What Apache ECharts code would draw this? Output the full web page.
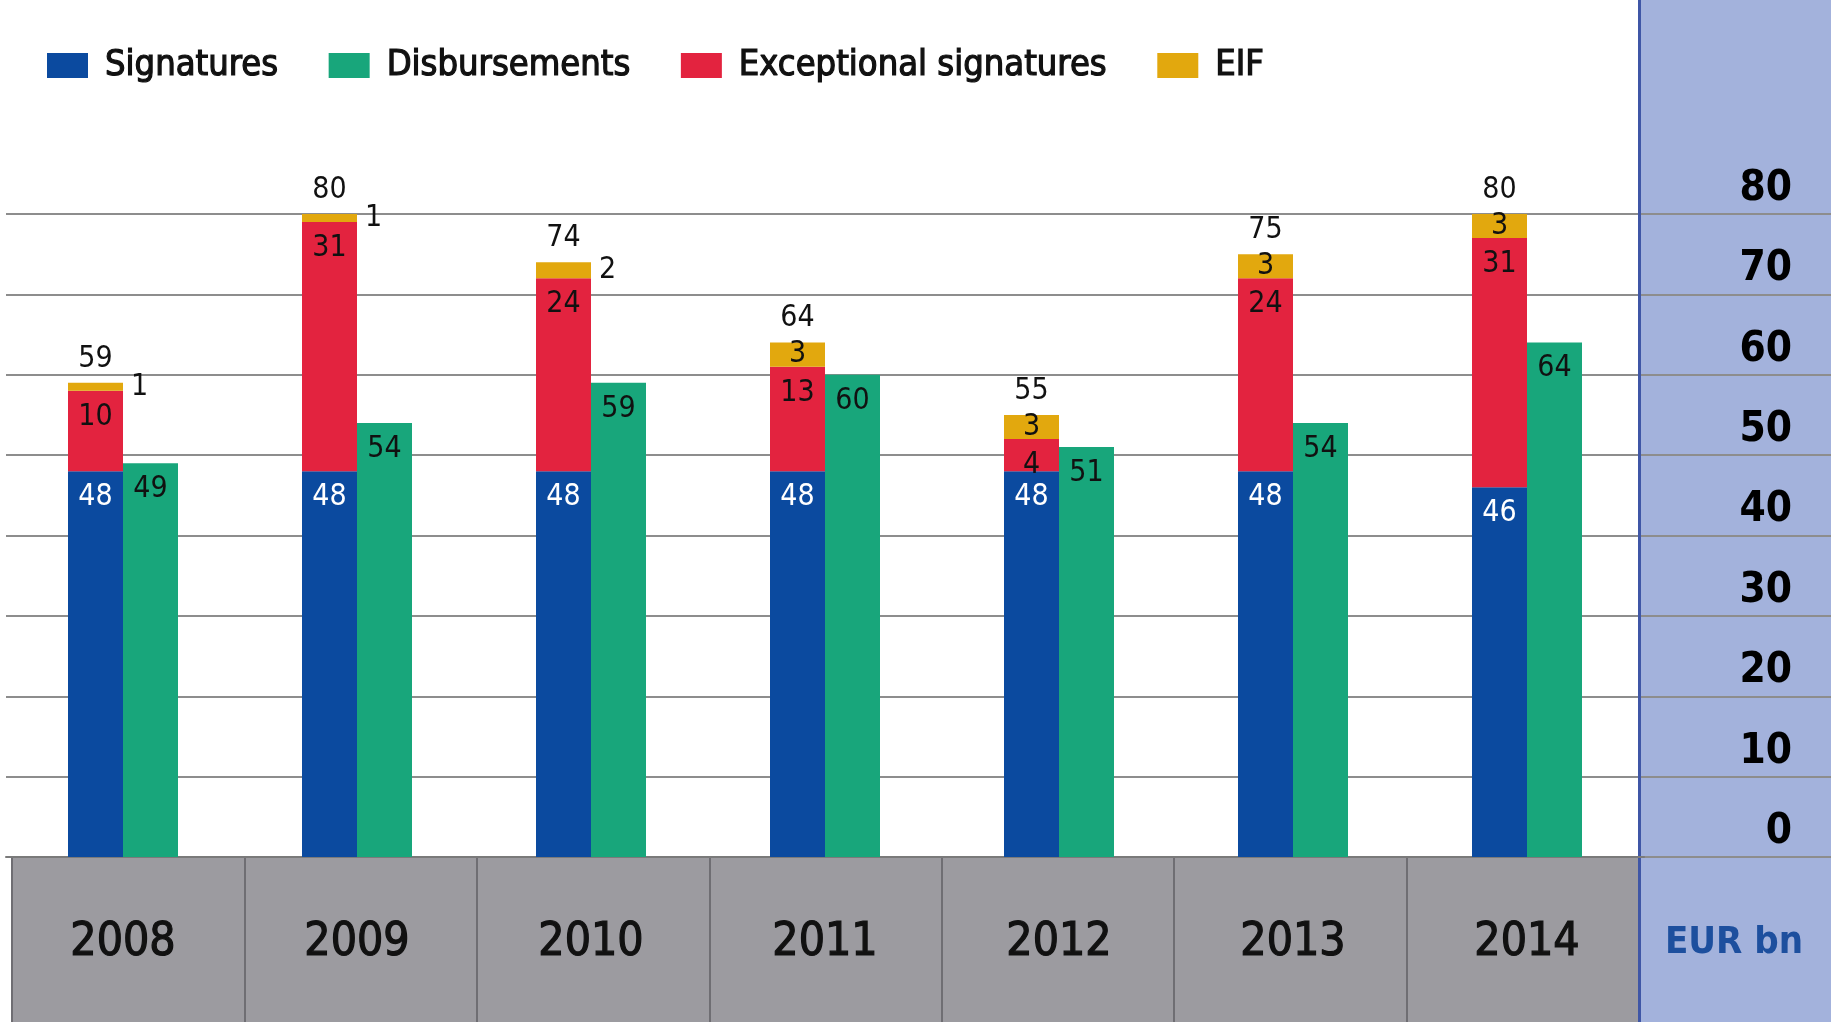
<!DOCTYPE html>
<html>
<head>
<meta charset="utf-8">
<script src="https://cdn.jsdelivr.net/npm/echarts@6/dist/echarts.min.js"></script>
<style>
html, body { margin: 0; padding: 0; background: #fff; }
#chart { width: 1831px; height: 1022px; }
</style>
</head>
<body>
<div id="chart"></div>
<script>
// values (EUR bn)
var years = ['2008', '2009', '2010', '2011', '2012', '2013', '2014'];
var signatures = [48, 48, 48, 48, 48, 48, 46];
var disbursements = [49, 54, 59, 60, 51, 54, 64];
var exceptional = [10, 31, 24, 13, 4, 24, 31];
var eif = [1, 1, 2, 3, 3, 3, 3];
var totals = [59, 80, 74, 64, 55, 75, 80];
var unitLabel = 'EUR bn';

var FONT = '"DejaVu Sans Condensed", "Liberation Sans Narrow", "Noto Sans", sans-serif';
var gridGrey = '#8d8d8d';

var myChart = echarts.init(document.getElementById('chart'));

// small EIF slices get their label beside the bar
var eifData = eif.map(function (v) {
    return {
        value: v,
        label: { position: v < 3 ? 'right' : 'inside', distance: 8 }
    };
});

var barLabel = function (pos, color) {
    return {
        show: true, position: pos, distance: 11,
        color: color, fontSize: 30, fontFamily: FONT
    };
};

var option = {
    animation: false,
    textStyle: { fontFamily: FONT },
    legend: {
        data: ['Signatures', 'Disbursements', 'Exceptional signatures', 'EIF'],
        left: 47, top: 47, padding: 0,
        icon: 'rect', itemWidth: 41, itemHeight: 25, itemGap: 50,
        textStyle: {
            fontSize: 36, color: '#111', fontFamily: FONT, padding: [0, 0, 0, 12],
            textBorderColor: '#111', textBorderWidth: 1.2
        }
    },
    grid: [
        { left: 6, right: 187, top: 214, bottom: 165 },                      // bars
        { left: 1639, right: 0, top: 0, bottom: 0, show: true, backgroundColor: '#a3b2dc', borderWidth: 0 }, // side panel
        { left: 1639, right: 0, top: 214, bottom: 165 },                     // panel values
        { left: 12, right: 192, top: 857, bottom: 0, show: true, backgroundColor: '#9c9ba0', borderWidth: 0 } // year band
    ],
    xAxis: [
        {
            gridIndex: 0, type: 'category', data: years,
            axisLine: { show: true, lineStyle: { color: '#7a7a7a', width: 2 } },
            axisTick: { show: false },
            axisLabel: {
                margin: 63, fontSize: 46, color: '#111', fontFamily: FONT,
                textBorderColor: '#111', textBorderWidth: 1.2
            }
        },
        { gridIndex: 1, type: 'value', show: false },
        { gridIndex: 2, type: 'value', show: false },
        {
            gridIndex: 3, type: 'category', data: years,
            axisLine: { show: false }, axisTick: { show: false }, axisLabel: { show: false },
            splitLine: { show: true, lineStyle: { color: '#6f6e73', width: 2 } }
        }
    ],
    yAxis: [
        {
            gridIndex: 0, type: 'value', min: 0, max: 80, interval: 10,
            axisLine: { show: false }, axisTick: { show: false }, axisLabel: { show: false },
            splitLine: { lineStyle: { color: gridGrey, width: 2 } }
        },
        {
            gridIndex: 1, type: 'value', min: 0, max: 1,
            axisLine: { show: true, lineStyle: { color: '#3f56a6', width: 3 } },
            axisTick: { show: false }, axisLabel: { show: false }, splitLine: { show: false }
        },
        {
            gridIndex: 2, type: 'value', min: 0, max: 80, interval: 10, position: 'right',
            axisLine: { show: false }, axisTick: { show: false },
            axisLabel: {
                inside: true, margin: 39, fontSize: 42, fontWeight: 'bold', color: '#000',
                fontFamily: FONT, verticalAlign: 'bottom', padding: [0, 0, 4, 0]
            },
            splitLine: { lineStyle: { color: gridGrey, width: 2 } }
        },
        { gridIndex: 3, type: 'value', show: false }
    ],
    series: [
        {
            name: 'Signatures', type: 'bar', stack: 'sig', barWidth: 55, barGap: '0%',
            itemStyle: { color: '#0b4a9f' },
            label: barLabel('insideTop', '#fff'),
            data: signatures
        },
        {
            name: 'Disbursements', type: 'bar', barWidth: 55, barGap: '0%',
            itemStyle: { color: '#18a67b' },
            label: barLabel('insideTop', '#111'),
            data: disbursements
        },
        {
            name: 'Exceptional signatures', type: 'bar', stack: 'sig', barWidth: 55, barGap: '0%',
            itemStyle: { color: '#e3233f' },
            label: barLabel('insideTop', '#111'),
            data: exceptional
        },
        {
            name: 'EIF', type: 'bar', stack: 'sig', barWidth: 55, barGap: '0%',
            itemStyle: { color: '#e2a80e' },
            label: barLabel('inside', '#111'),
            data: eifData
        },
        {
            // zero-height cap that carries the total above each signatures stack
            name: 'Total', type: 'bar', stack: 'sig', barWidth: 55, barGap: '0%',
            itemStyle: { color: 'transparent' },
            silent: true,
            label: {
                show: true, position: 'top', distance: 9, color: '#111', fontSize: 30, fontFamily: FONT,
                formatter: function (p) { return totals[p.dataIndex]; }
            },
            data: totals.map(function () { return 0; })
        }
    ],
    graphic: [
        {
            type: 'text', x: 1734, y: 943, z: 100,
            style: {
                text: unitLabel, fill: '#1d4f9e', font: 'bold 38px ' + FONT,
                align: 'center', verticalAlign: 'middle'
            }
        }
    ]
};

myChart.setOption(option);
</script>
</body>
</html>
